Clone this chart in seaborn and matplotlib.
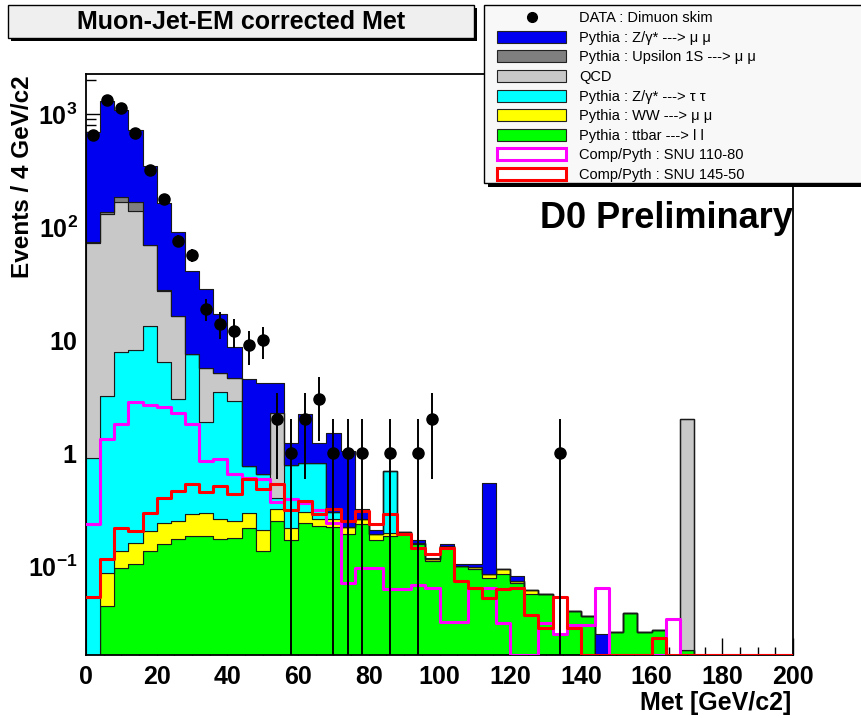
import numpy as np
import pandas as pd
import matplotlib
matplotlib.use("Agg")
import matplotlib.pyplot as plt
import seaborn as sns
from matplotlib.patches import Patch, Rectangle
from matplotlib.lines import Line2D
from matplotlib.ticker import LogLocator, MultipleLocator, FuncFormatter, NullFormatter

# ---------------- data ----------------
bin_edges = list(range(0, 204, 4))          # 50 bins of 4 GeV/c2
centers = np.array(bin_edges[:-1]) + 2

data_counts = [660, 1350, 1130, 680, 320, 178, 76, 57, 19, 14,
               12, 9, 10, 2, 1, 2, 3, 1, 1, 1,
               0, 1, 0, 1, 2, 0, 0, 0, 0, 0,
               0, 0, 0, 1, 0, 0, 0, 0, 0, 0,
               0, 0, 0, 0, 0, 0, 0, 0, 0, 0]

ttbar = [0, 0.044, 0.096, 0.103, 0.135, 0.155, 0.172, 0.184, 0.184, 0.172,
         0.177, 0.217, 0.135, 0.25, 0.17, 0.24, 0.225, 0.22, 0.19, 0.235,
         0.17, 0.184, 0.19, 0.155, 0.11, 0.15, 0.10, 0.093, 0.078, 0.084,
         0.071, 0.056, 0.056, 0.025, 0.040, 0.036, 0, 0.026, 0.038, 0.026,
         0.027, 0, 0.018, 0, 0, 0, 0, 0, 0, 0]

ww = [0, 0.043, 0.039, 0.057, 0.068, 0.085, 0.077, 0.103, 0.112, 0.088,
      0.073, 0.079, 0.075, 0.07, 0.047, 0.06, 0.035, 0.04, 0.03, 0.025,
      0.02, 0.012, 0.01, 0.005, 0.005, 0, 0, 0.005, 0.006, 0.01,
      0.003, 0.005, 0, 0, 0, 0, 0, 0, 0, 0,
      0, 0, 0, 0, 0, 0, 0, 0, 0, 0]

ztautau = [0.91, 3.1, 7.7, 8.0, 13.2, 6.1, 2.75, 7.3, 1.6, 3.2,
           2.65, 0.47, 0.44, 0.08, 0.56, 0.52, 0.56, 0.04, 0, 0,
           0, 0.49, 0, 0, 0, 0, 0, 0, 0, 0,
           0, 0, 0, 0, 0, 0, 0, 0, 0, 0,
           0, 0, 0, 0, 0, 0, 0, 0, 0, 0]

qcd = [71, 127, 159, 132, 55.6, 21.1, 13.4, 0, 3.8, 1.7,
       1.76, 0, 0, 1.88, 0, 0, 0, 0, 0, 0,
       0, 0, 0, 0, 0, 0, 0, 0, 0, 0,
       0, 0, 0, 0, 0, 0, 0, 0, 0, 0,
       0, 0, 2.0, 0, 0, 0, 0, 0, 0, 0]

upsilon = [2, 5, 19, 27, 1, 0.2, 0.1, 0, 0, 0,
           0, 0, 0, 0, 0, 0, 0, 0, 0, 0,
           0, 0, 0, 0, 0, 0, 0, 0, 0, 0,
           0, 0, 0, 0, 0, 0, 0, 0, 0, 0,
           0, 0, 0, 0, 0, 0, 0, 0, 0, 0]

zmumu = [626, 1165, 914, 553, 275, 135, 74.5, 33.4, 22.8, 11.8,
         4.04, 3.73, 3.55, 1.92, 0.45, 1.38, 0.41, 1.2, 0.82, 0.06,
         0.02, 0, 0, 0.01, 0.003, 0.007, 0.004, 0.005, 0.461, 0,
         0.007, 0, 0, 0, 0, 0, 0.025, 0, 0, 0,
         0, 0, 0, 0, 0, 0, 0, 0, 0, 0]

snu_110_80 = [0.233, 1.32, 1.82, 2.84, 2.67, 2.56, 2.28, 1.82, 0.85, 0.88,
              0.65, 0.6, 0.59, 0.37, 0.39, 0.36, 0.31, 0.24, 0.07, 0.096,
              0.096, 0.062, 0.062, 0.068, 0.064, 0.032, 0.032, 0.064, 0.064, 0.031,
              0, 0, 0.031, 0.025, 0.03, 0.03, 0.064, 0, 0, 0,
              0, 0.034, 0, 0, 0, 0, 0, 0, 0, 0]

snu_145_50 = [0.053, 0.114, 0.217, 0.203, 0.296, 0.40, 0.46, 0.534, 0.453, 0.51,
              0.43, 0.585, 0.48, 0.53, 0.31, 0.375, 0.287, 0.32, 0.25, 0.306,
              0.234, 0.287, 0.19, 0.145, 0.127, 0.145, 0.073, 0.064, 0.052, 0.062,
              0.064, 0.037, 0.028, 0.053, 0.028, 0, 0, 0, 0, 0,
              0.023, 0, 0, 0, 0, 0, 0, 0, 0, 0]

labels = {
    "data": "DATA : Dimuon skim",
    "zmumu": "Pythia : Z/\u03b3* ---> \u03bc \u03bc",
    "upsilon": "Pythia : Upsilon 1S ---> \u03bc \u03bc",
    "qcd": "QCD",
    "ztautau": "Pythia : Z/\u03b3* ---> \u03c4 \u03c4",
    "ww": "Pythia : WW ---> \u03bc \u03bc",
    "ttbar": "Pythia : ttbar ---> l l",
    "snu1": "Comp/Pyth : SNU 110-80",
    "snu2": "Comp/Pyth : SNU 145-50",
}
colors = {
    "zmumu": "#0000f0", "upsilon": "#7f7f7f", "qcd": "#c8c8c8",
    "ztautau": "#00ffff", "ww": "#ffff00", "ttbar": "#00ff00",
    "snu1": "#ff00ff", "snu2": "#ff0000",
}

# ---------------- style ----------------
sns.set_theme(style="white")
plt.rcParams["font.family"] = ["Liberation Sans", "DejaVu Sans"]
plt.rcParams["mathtext.fontset"] = "custom"
plt.rcParams["mathtext.rm"] = "Liberation Sans"
plt.rcParams["mathtext.bf"] = "Liberation Sans:bold"
plt.rcParams["mathtext.it"] = "Liberation Sans:italic"
for k in ("text.color", "axes.labelcolor", "xtick.color", "ytick.color", "axes.edgecolor"):
    plt.rcParams[k] = "black"

W, H = 861, 718
fig = plt.figure(figsize=(W / 100, H / 100), dpi=100)
fig.patch.set_facecolor("white")
ax = fig.add_axes([86 / W, 63 / H, 707 / W, 581 / H])
ax.set_facecolor("white")

# ---------------- stacked backgrounds ----------------
stack_order = ["zmumu", "upsilon", "qcd", "ztautau", "ww", "ttbar"]   # first = top
series = {"zmumu": zmumu, "upsilon": upsilon, "qcd": qcd,
          "ztautau": ztautau, "ww": ww, "ttbar": ttbar}
rows = []
for key in stack_order:
    for c, v in zip(centers, series[key]):
        rows.append({"met": c, "w": v, "comp": key})
df = pd.DataFrame(rows)

sns.histplot(data=df, x="met", weights="w", hue="comp", hue_order=stack_order,
             palette=colors, multiple="stack", bins=bin_edges, element="step",
             alpha=1, edgecolor="#1a1a1a", linewidth=0.8, legend=False, ax=ax)

ax.set_yscale("log")
ymin, ymax = 0.01625, 2275
ax.set_ylim(ymin, ymax)
ax.set_xlim(0, 200)

# ---------------- signal overlays ----------------
for key, vals in (("snu1", snu_110_80), ("snu2", snu_145_50)):
    sdf = pd.DataFrame({"met": centers, "w": np.maximum(np.array(vals), ymin)})
    sns.histplot(data=sdf, x="met", weights="w", bins=bin_edges,
                 element="step", fill=False, color=colors[key], linewidth=2.2,
                 ax=ax, zorder=5)

# ---------------- data points ----------------
n = np.array(data_counts, dtype=float)
m = n > 0
err_up = np.sqrt(n[m])
err_lo = n[m] - np.maximum(n[m] - np.sqrt(n[m]), 1e-4)
ax.errorbar(centers[m], n[m], yerr=[err_lo, err_up], fmt="o", color="black",
            ms=8, elinewidth=1.4, capsize=0, zorder=10)

ax.set_xlim(0, 200)
ax.set_ylim(ymin, ymax)
ax.set_xlabel("")
ax.set_ylabel("")

# ---------------- axes / ticks ----------------
for s in ax.spines.values():
    s.set_color("black")
    s.set_linewidth(1.3)
    s.set_visible(True)

ax.xaxis.set_major_locator(MultipleLocator(20))
ax.xaxis.set_minor_locator(MultipleLocator(5))
ax.yaxis.set_major_locator(LogLocator(base=10, numticks=12))
ax.yaxis.set_minor_locator(LogLocator(base=10, subs=np.arange(2, 10), numticks=12))
ax.yaxis.set_minor_formatter(NullFormatter())

def ylab(v, pos):
    e = int(round(np.log10(v)))
    if e == 0:
        return r"$\mathbf{1}$"
    if e == 1:
        return r"$\mathbf{10}$"
    return r"$\mathbf{10^{%d}}$" % e

ax.yaxis.set_major_formatter(FuncFormatter(ylab))
ax.tick_params(axis="x", which="major", direction="in", length=12, width=1.0,
               labelsize=18, pad=7, bottom=True, top=False, colors="black")
ax.tick_params(axis="x", which="minor", direction="in", length=6, width=1.0,
               bottom=True, top=False)
ax.tick_params(axis="y", which="major", direction="in", length=14, width=1.0,
               labelsize=18, pad=6, left=True, right=False, colors="black")
ax.tick_params(axis="y", which="minor", direction="in", length=7, width=1.0,
               left=True, right=False)
for t in ax.get_xticklabels():
    t.set_fontweight("bold")

# ---------------- texts ----------------
fig.text(23 / W, 1 - 75 / H, "Events / 4 GeV/c2", rotation=90, ha="center", va="top",
         fontsize=17.5, fontweight="bold")
fig.text(791 / W, 1 - 703 / H, "Met [GeV/c2]", ha="right", va="center",
         fontsize=18, fontweight="bold")
fig.text(793 / W, 1 - 228 / H, "D0 Preliminary", ha="right", va="baseline",
         fontsize=26, fontweight="bold", color="black")

# title box with ROOT-like shadow
fig.patches.append(Rectangle((11 / W, (H - 41) / H), 466 / W, 33 / H,
                             transform=fig.transFigure, facecolor="black",
                             edgecolor="none", zorder=1))
fig.patches.append(Rectangle((8 / W, (H - 38) / H), 466 / W, 33 / H,
                             transform=fig.transFigure, facecolor="#efefef",
                             edgecolor="black", linewidth=1.0, zorder=2))
fig.text(241 / W, 1 - 22 / H, "Muon-Jet-EM corrected Met", ha="center", va="center",
         fontsize=18, fontweight="bold", zorder=3)

# ---------------- legend (ROOT-like box with shadow) ----------------
fig.patches.append(Rectangle((488 / W, (H - 187) / H), 406 / W, 178 / H,
                             transform=fig.transFigure, facecolor="black",
                             edgecolor="none", zorder=14))
fig.patches.append(Rectangle((484 / W, (H - 183) / H), 406 / W, 178 / H,
                             transform=fig.transFigure, facecolor="#f8f8f8",
                             edgecolor="black", linewidth=1.0, zorder=15))

handles = [
    Line2D([], [], marker="o", color="black", linestyle="none", markersize=7),
    Patch(facecolor=colors["zmumu"], edgecolor="#222222", linewidth=0.8),
    Patch(facecolor=colors["upsilon"], edgecolor="#222222", linewidth=0.8),
    Patch(facecolor=colors["qcd"], edgecolor="#222222", linewidth=0.8),
    Patch(facecolor=colors["ztautau"], edgecolor="#222222", linewidth=0.8),
    Patch(facecolor=colors["ww"], edgecolor="#222222", linewidth=0.8),
    Patch(facecolor=colors["ttbar"], edgecolor="#222222", linewidth=0.8),
    Patch(facecolor="white", edgecolor=colors["snu1"], linewidth=2.2),
    Patch(facecolor="white", edgecolor=colors["snu2"], linewidth=2.2),
]
leg_labels = [labels[k] for k in ["data", "zmumu", "upsilon", "qcd", "ztautau",
                                  "ww", "ttbar", "snu1", "snu2"]]
leg = fig.legend(handles, leg_labels, loc="upper left",
                 bbox_to_anchor=(497 / W, 1 - 11 / H),
                 fontsize=10.5, frameon=False,
                 handlelength=4.75, handleheight=0.9, handletextpad=0.9,
                 labelspacing=0.38, borderpad=0, borderaxespad=0)
leg.set_zorder(20)

fig.savefig("out.png", dpi=100)
